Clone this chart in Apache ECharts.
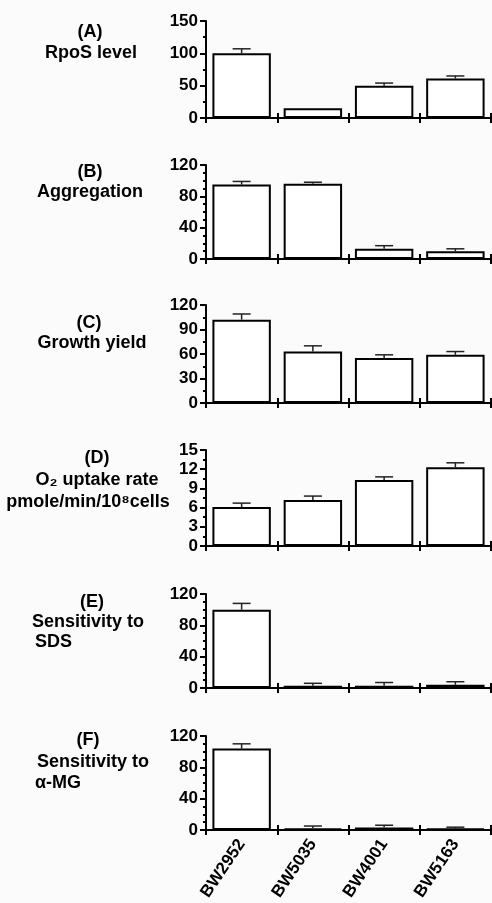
<!DOCTYPE html>
<html>
<head>
<meta charset="utf-8">
<script src="https://cdn.jsdelivr.net/npm/echarts@6/dist/echarts.min.js"></script>
<style>
html,body{margin:0;padding:0;background:#fbfbfb;}
#c{width:492px;height:903px;}
</style>
</head>
<body>
<div id="c"></div>
<script>
// ---- data ----
const categories = ['BW2952', 'BW5035', 'BW4001', 'BW5163'];
const valuesA = [100, 15, 50, 61];   // RpoS level
const errA    = [7, 0, 4, 4];
const valuesB = [95, 96, 13, 10];    // Aggregation
const errB    = [4, 2, 4, 3];
const valuesC = [102, 63, 55, 59];   // Growth yield
const errC    = [7, 7, 4, 4];
const valuesD = [6.1, 7.2, 10.3, 12.3]; // O2 uptake rate
const errD    = [0.6, 0.6, 0.5, 0.7];
const valuesE = [100, 3, 3, 4];      // Sensitivity to SDS
const errE    = [8, 3, 4, 4];
const valuesF = [104, 2, 3, 1.5];    // Sensitivity to alpha-MG
const errF    = [6, 3, 3, 2];
const yMax      = [150, 120, 120, 15, 120, 120];
const yInterval = [50, 40, 30, 3, 40, 40];
const yMinorSplit = [2, 4, 2, 2, 4, 4];

const panelValues = [valuesA, valuesB, valuesC, valuesD, valuesE, valuesF];
const panelErrors = [errA, errB, errC, errD, errE, errF];

// ---- layout ----
const gridTop    = [21, 165, 305, 450, 594, 736];
const gridHeight = [97, 94, 98, 96, 94, 96];
const FONT = 'Liberation Sans';

const grids = [], xAxes = [], yAxes = [], series = [];
for (let p = 0; p < 6; p++) {
  grids.push({ left: 206, right: 1, top: gridTop[p], height: gridHeight[p], containLabel: false });
  const last = p === 5;
  xAxes.push({
    type: 'category', gridIndex: p, data: categories, position: 'bottom',
    boundaryGap: true,
    axisLine: { show: true, lineStyle: { color: '#000', width: 2 } },
    axisTick: { show: true, inside: false, length: 5, lineStyle: { color: '#000', width: 2 } },
    axisLabel: last ? { show: true, rotate: 56, margin: 11, color: '#000', fontFamily: FONT, fontWeight: 'bold', fontSize: 17 } : { show: false },
    splitLine: { show: false }
  });
  xAxes.push({
    type: 'category', gridIndex: p, data: categories, position: 'bottom',
    boundaryGap: true,
    axisLine: { show: false },
    axisTick: { show: true, inside: true, length: 5, lineStyle: { color: '#000', width: 2 } },
    axisLabel: { show: false },
    splitLine: { show: false }
  });
  yAxes.push({
    type: 'value', gridIndex: p, min: 0, max: yMax[p], interval: yInterval[p],
    axisLine: { show: true, lineStyle: { color: '#000', width: 2 } },
    axisTick: { show: true, length: 6, lineStyle: { color: '#000', width: 2 } },
    minorTick: { show: true, splitNumber: yMinorSplit[p], length: 3, lineStyle: { color: '#000', width: 2 } },
    axisLabel: { color: '#000', fontFamily: FONT, fontWeight: 'bold', fontSize: 17, margin: 8 },
    splitLine: { show: false }
  });
  series.push({
    type: 'bar', xAxisIndex: 2 * p, yAxisIndex: p,
    data: panelValues[p], barCategoryGap: '18%',
    itemStyle: { color: '#fff', borderColor: '#000', borderWidth: 2 },
    silent: true, animation: false
  });
  const errData = panelValues[p].map((v, i) => [i, v, v + panelErrors[p][i]]);
  series.push({
    type: 'custom', xAxisIndex: 2 * p, yAxisIndex: p, data: errData, z: 5,
    animation: false, silent: true,
    renderItem: function (params, api) {
      const base = api.coord([api.value(0), api.value(1)]);
      const top = api.coord([api.value(0), api.value(2)]);
      if (Math.abs(base[1] - top[1]) < 0.5) return null;
      const hw = 9;
      return {
        type: 'group',
        children: [
          { type: 'line', shape: { x1: base[0], y1: base[1], x2: top[0], y2: top[1] }, style: { stroke: '#222', lineWidth: 1.5 } },
          { type: 'line', shape: { x1: top[0] - hw, y1: top[1], x2: top[0] + hw, y2: top[1] }, style: { stroke: '#222', lineWidth: 1.5 } }
        ]
      };
    }
  });
}

function txt(s, x, y, align) {
  return { type: 'text', x: x, y: y, style: { text: s, textAlign: align || 'center', textVerticalAlign: 'middle', fill: '#000', font: 'bold 18px "' + FONT + '"' } };
}
const graphics = [
  txt('(A)', 90, 32), txt('RpoS level', 91, 53),
  txt('(B)', 90, 172), txt('Aggregation', 90, 192),
  txt('(C)', 89, 323), txt('Growth yield', 92, 343),
  txt('(D)', 97, 458), txt('O\u2082 uptake rate', 97, 480), txt('pmole/min/10\u2078cells', 88, 502),
  txt('(E)', 92, 602), txt('Sensitivity to', 32, 622, 'left'), txt('SDS', 35, 642, 'left'),
  txt('(F)', 88, 740), txt('Sensitivity to', 37, 762, 'left'), txt('\u03b1-MG', 35, 783, 'left')
];

const chart = echarts.init(document.getElementById('c'), null, { renderer: 'canvas' });
chart.setOption({
  backgroundColor: '#fbfbfb',
  animation: false,
  grid: grids, xAxis: xAxes, yAxis: yAxes, series: series,
  graphic: graphics
});
</script>
</body>
</html>
